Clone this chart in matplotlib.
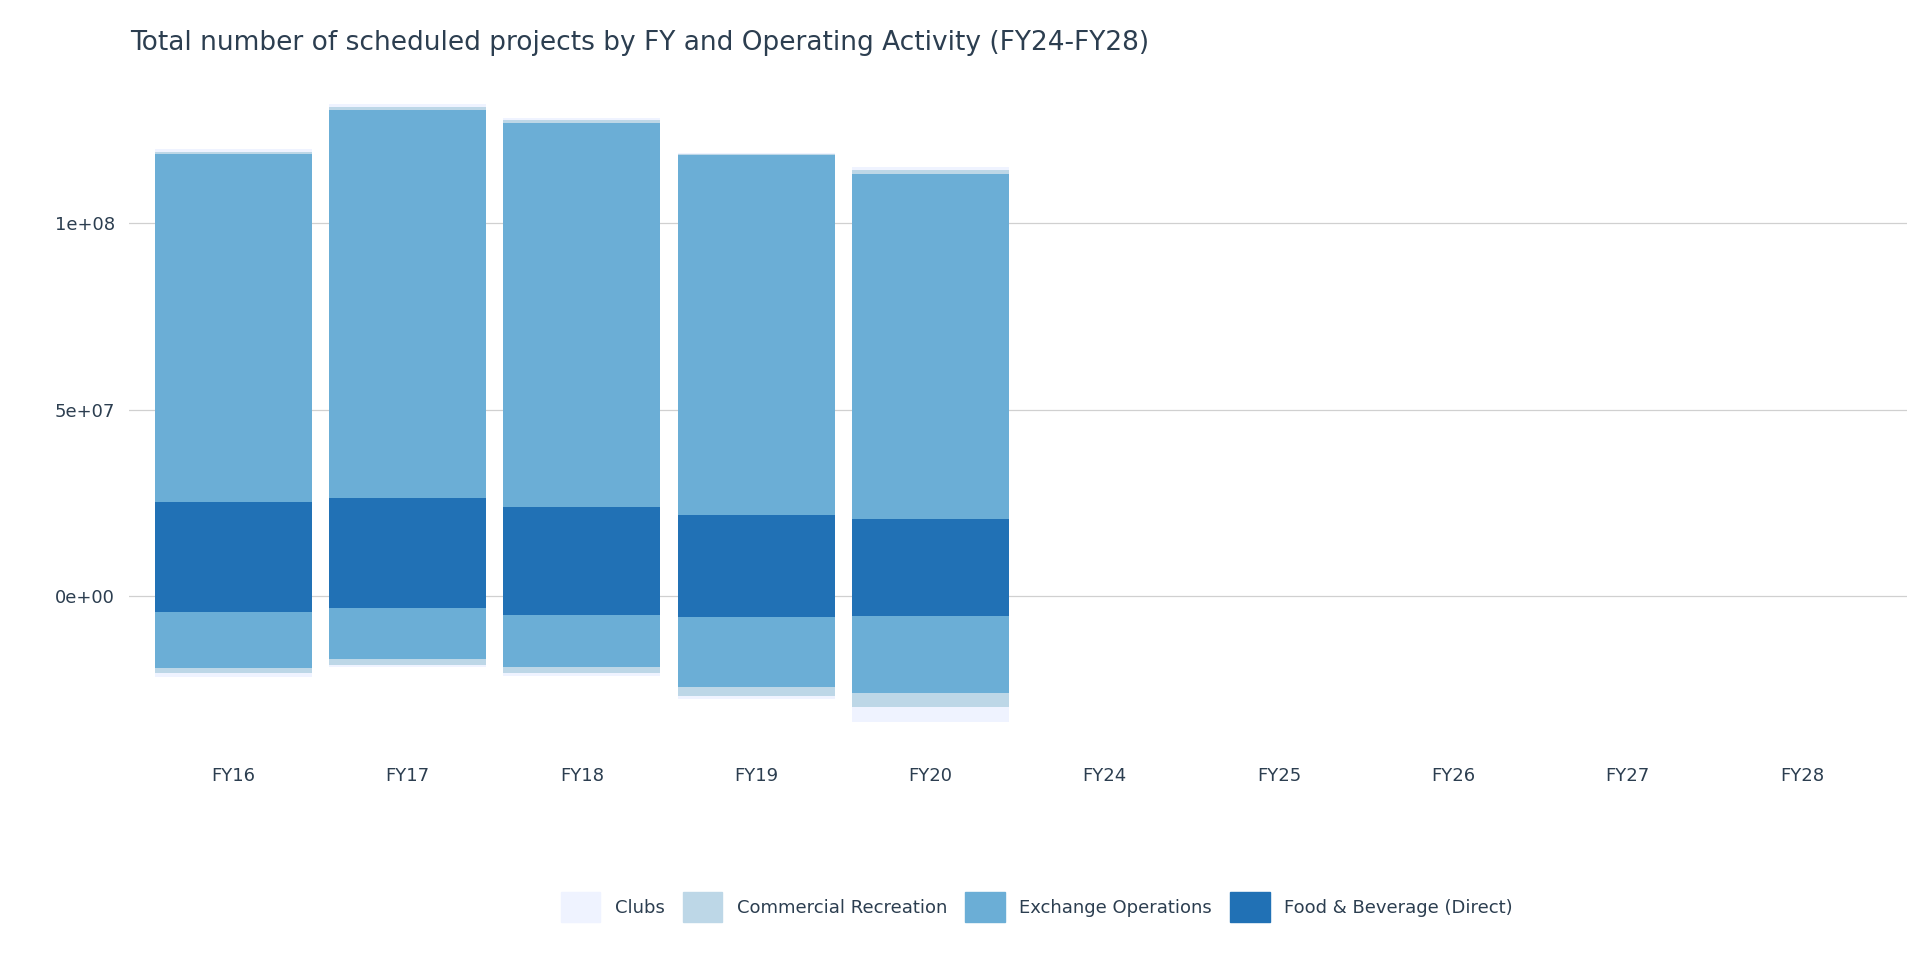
import matplotlib.pyplot as plt
import numpy as np

years = ['FY16', 'FY17', 'FY18', 'FY19', 'FY20', 'FY24', 'FY25', 'FY26', 'FY27', 'FY28']
activities = ['Clubs', 'Commercial Recreation', 'Exchange Operations', 'Food & Beverage (Direct)']
colors = ['#eff3ff', '#bdd7e7', '#6baed6', '#2171b5']

# positive and negative parts per activity (FY24-FY28 have no data)
fb_pos = [2.53e7, 2.63e7, 2.38e7, 2.16e7, 2.06e7, 0, 0, 0, 0, 0]
fb_neg = [-4.4e6, -3.1e6, -5.0e6, -5.6e6, -5.3e6, 0, 0, 0, 0, 0]
exch_pos = [9.31e7, 1.04e8, 1.03e8, 9.66e7, 9.25e7, 0, 0, 0, 0, 0]
exch_neg = [-1.5e7, -1.375e7, -1.4e7, -1.875e7, -2.06e7, 0, 0, 0, 0, 0]
comm_pos = [0.6e6, 0.9e6, 0.9e6, 0.3e6, 1.25e6, 0, 0, 0, 0, 0]
comm_neg = [-1.25e6, -1.6e6, -1.6e6, -2.5e6, -3.75e6, 0, 0, 0, 0, 0]
clubs_pos = [1.0e6, 0.6e6, 0.6e6, 0.2e6, 0.6e6, 0, 0, 0, 0, 0]
clubs_neg = [-1.0e6, -0.6e6, -0.9e6, -0.9e6, -4.0e6, 0, 0, 0, 0, 0]

text_col = '#2c3e50'
fig = plt.figure(figsize=(19.2, 9.6), dpi=100)
ax = fig.add_axes([0.067, 0.216, 0.926, 0.707])
x = np.arange(len(years))

pos_stack = [fb_pos, exch_pos, comm_pos, clubs_pos]
neg_stack = [fb_neg, exch_neg, comm_neg, clubs_neg]
stack_colors = [colors[3], colors[2], colors[1], colors[0]]
pb = np.zeros(len(years))
nb = np.zeros(len(years))
for vals, c in zip(pos_stack, stack_colors):
    ax.bar(x, vals, bottom=pb, width=0.9, color=c, zorder=2)
    pb += np.array(vals)
for vals, c in zip(neg_stack, stack_colors):
    ax.bar(x, vals, bottom=nb, width=0.9, color=c, zorder=2)
    nb += np.array(vals)

ax.set_xlim(-0.6, 9.6)
ax.set_ylim(-4.2e7, 1.4e8)
ax.set_yticks([0, 5e7, 1e8])
ax.set_yticklabels(['0e+00', '5e+07', '1e+08'])
ax.set_xticks(x)
ax.set_xticklabels(years)
ax.grid(axis='y', color='#d0d0d0', linewidth=0.9, zorder=0)
for s in ax.spines.values():
    s.set_visible(False)
ax.tick_params(length=0, labelsize=13, colors=text_col, pad=10)

fig.text(0.068, 0.955, 'Total number of scheduled projects by FY and Operating Activity (FY24-FY28)',
         fontsize=19, color=text_col, va='center')

handles = [plt.Rectangle((0, 0), 1, 1, color=c) for c in colors]
fig.legend(handles, activities, loc='center', bbox_to_anchor=(0.54, 0.055), ncol=4,
           frameon=False, fontsize=13, labelcolor=text_col, handlelength=2.2, handleheight=2.2,
           columnspacing=1.0, handletextpad=0.8)

fig.savefig('out.png', dpi=100)
